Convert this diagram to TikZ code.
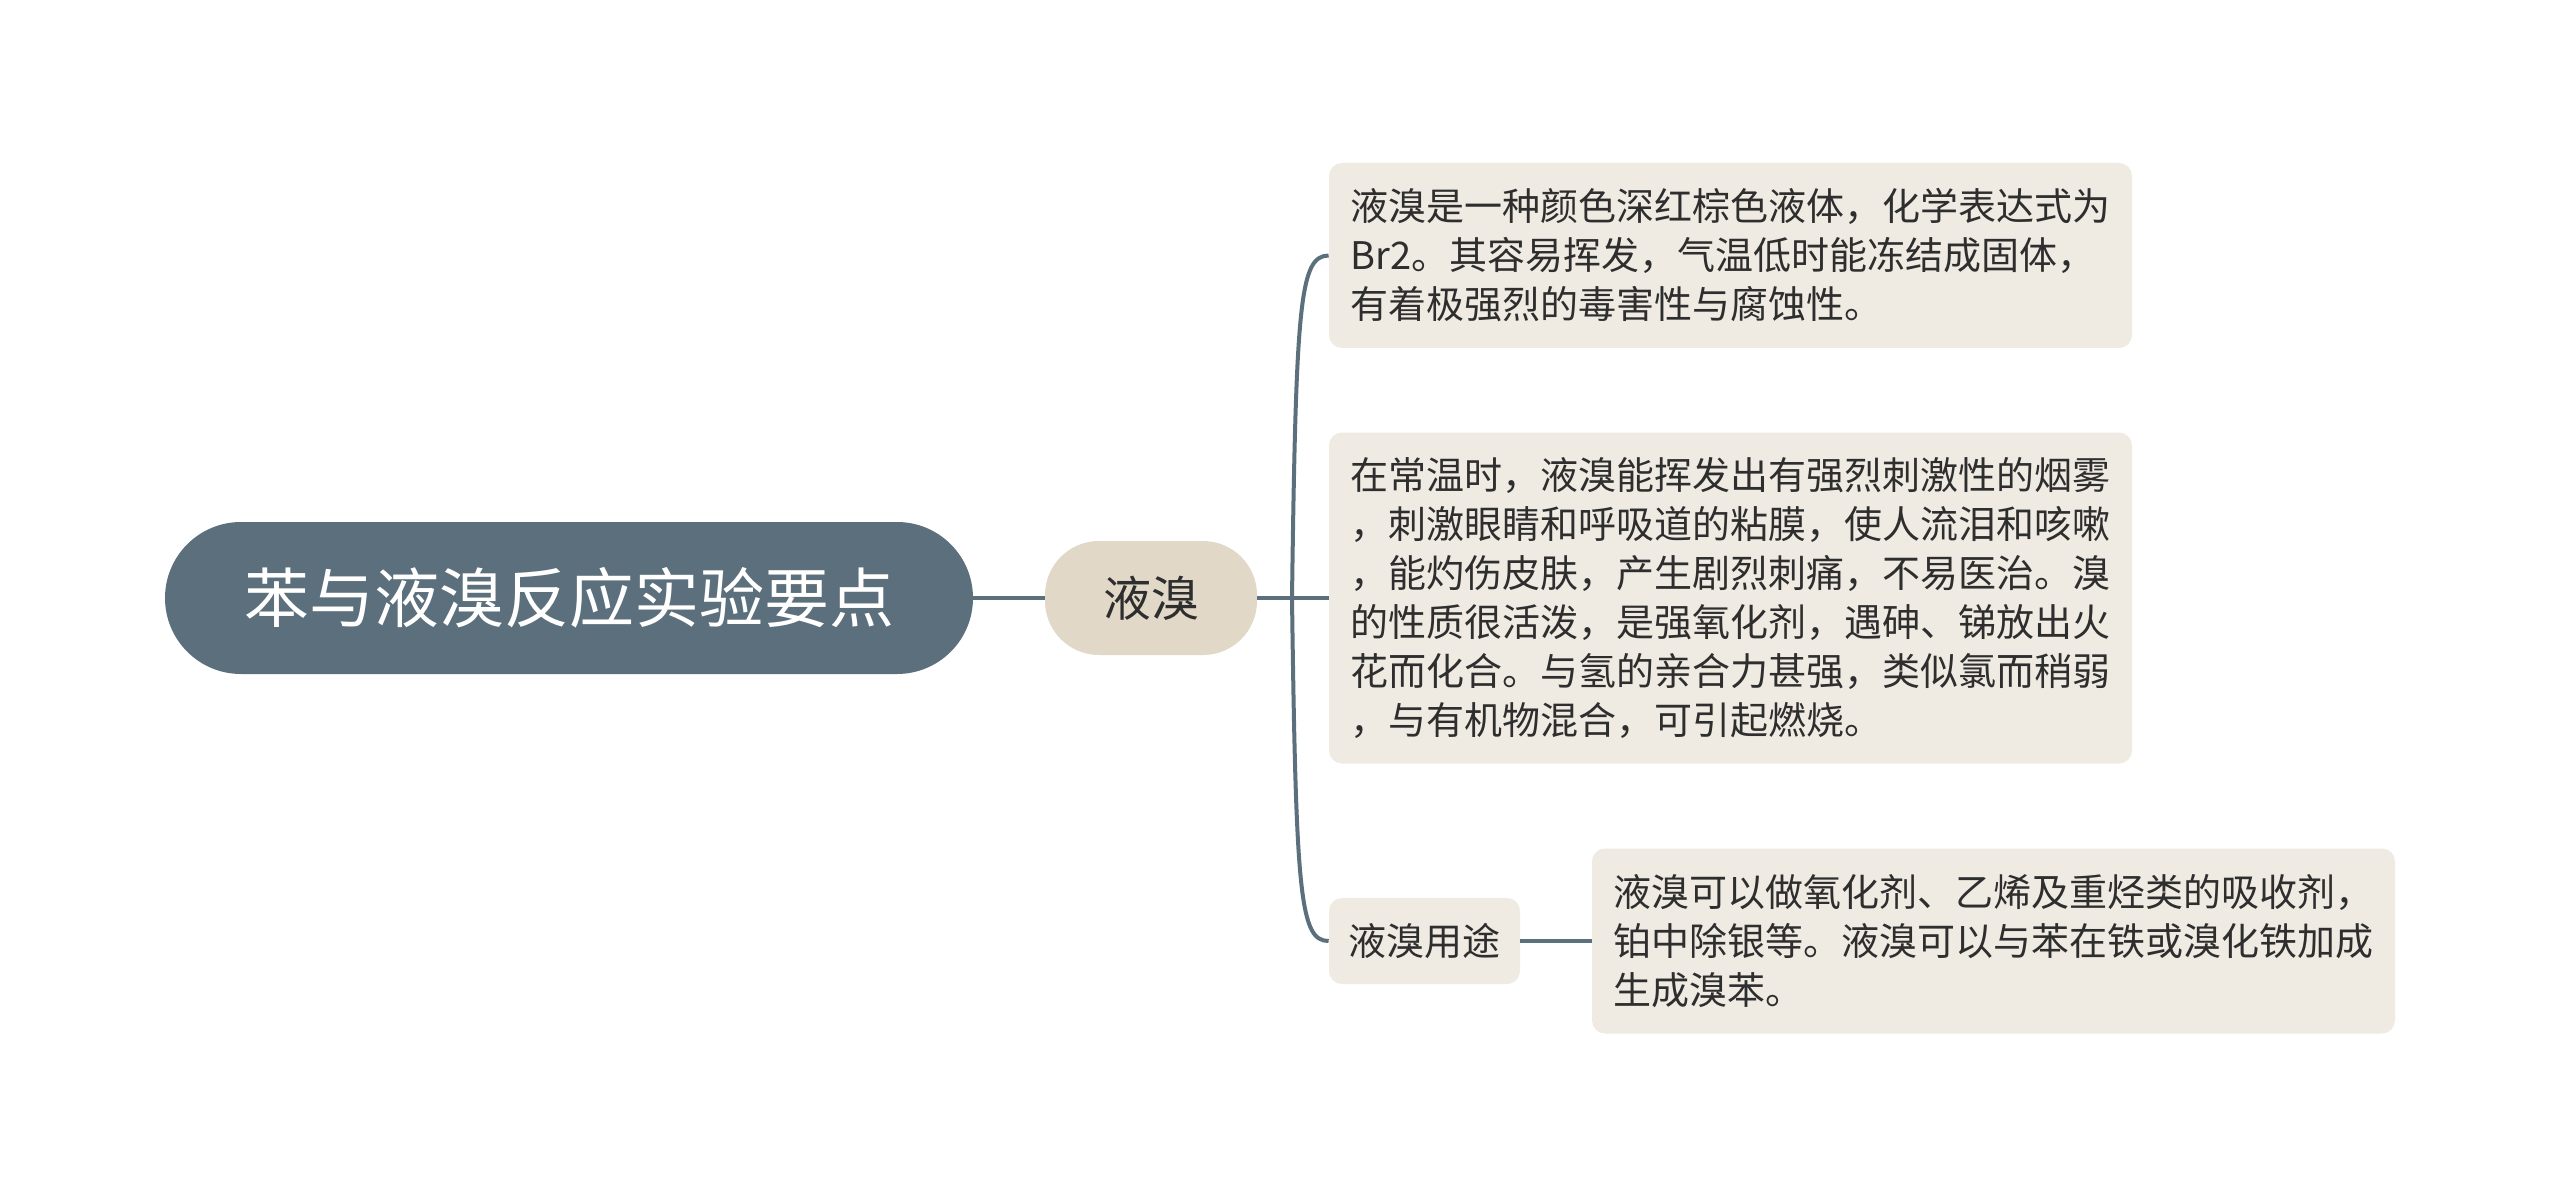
\documentclass[tikz,border=0pt]{standalone}
\usepackage{fontspec}
\setmainfont{Noto Sans CJK SC}
\definecolor{slate}{HTML}{5C6F7C}
\definecolor{sand}{HTML}{E1D8C8}
\definecolor{paper}{HTML}{EFEBE3}
\definecolor{ink}{HTML}{2E2E2E}
\begin{document}
\begin{tikzpicture}[x=0.5pt,y=-0.5pt,
  rootnode/.style={fill=slate,text=white,rounded corners=38pt,minimum width=404pt,minimum height=76pt,inner sep=0pt,font=\fontsize{32.5}{36}\selectfont},
  mainnode/.style={fill=sand,text=ink,rounded corners=27pt,minimum width=106pt,minimum height=57pt,inner sep=0pt,font=\fontsize{24}{28}\selectfont},
  subnode/.style={fill=paper,text=ink,rounded corners=6.5pt,minimum width=95.5pt,minimum height=43pt,inner sep=0pt,font=\fontsize{19}{24.5}\selectfont},
  leaf/.style={fill=paper,text=ink,rounded corners=6.5pt,text width=380pt,align=left,inner xsep=10.75pt,inner ysep=0pt,font=\fontsize{19}{24.5}\selectfont},
  conn/.style={draw=slate,line width=2.4pt},
  thin/.style={draw=slate,line width=2pt}]
\useasboundingbox[fill=white] (0,0) rectangle (2560,1198);
\node[rootnode] (root) at (569,598) {苯与液溴反应实验要点};
\node[mainnode] (main) at (1151,598) {液溴};
\node[leaf,minimum height=92.5pt] (b1) at (1730.5,255.5) {液溴是一种颜色深红棕色液体，化学表达式为\\Br2。其容易挥发，气温低时能冻结成固体，\\有着极强烈的毒害性与腐蚀性。};
\node[leaf,minimum height=165.5pt] (b2) at (1730.5,598) {在常温时，液溴能挥发出有强烈刺激性的烟雾\\，刺激眼睛和呼吸道的粘膜，使人流泪和咳嗽\\，能灼伤皮肤，产生剧烈刺痛，不易医治。溴\\的性质很活泼，是强氧化剂，遇砷、锑放出火\\花而化合。与氢的亲合力甚强，类似氯而稍弱\\，与有机物混合，可引起燃烧。};
\node[subnode] (use) at (1424.5,941) {液溴用途};
\node[leaf,minimum height=92.5pt] (b3) at (1993.5,941) {液溴可以做氧化剂、乙烯及重烃类的吸收剂，\\铂中除银等。液溴可以与苯在铁或溴化铁加成\\生成溴苯。};
\coordinate (j) at (1292,598);
\draw[conn] (root.east) -- (main.west);
\draw[thin] (main.east) -- (j);
\draw[thin] (j) -- (b2.west);
\draw[thin] (j) .. controls (1296,300) and (1300,256) .. (b1.west);
\draw[thin] (j) .. controls (1296,896) and (1300,941) .. (use.west);
\draw[conn] (use.east) -- (b3.west);
\end{tikzpicture}
\end{document}
